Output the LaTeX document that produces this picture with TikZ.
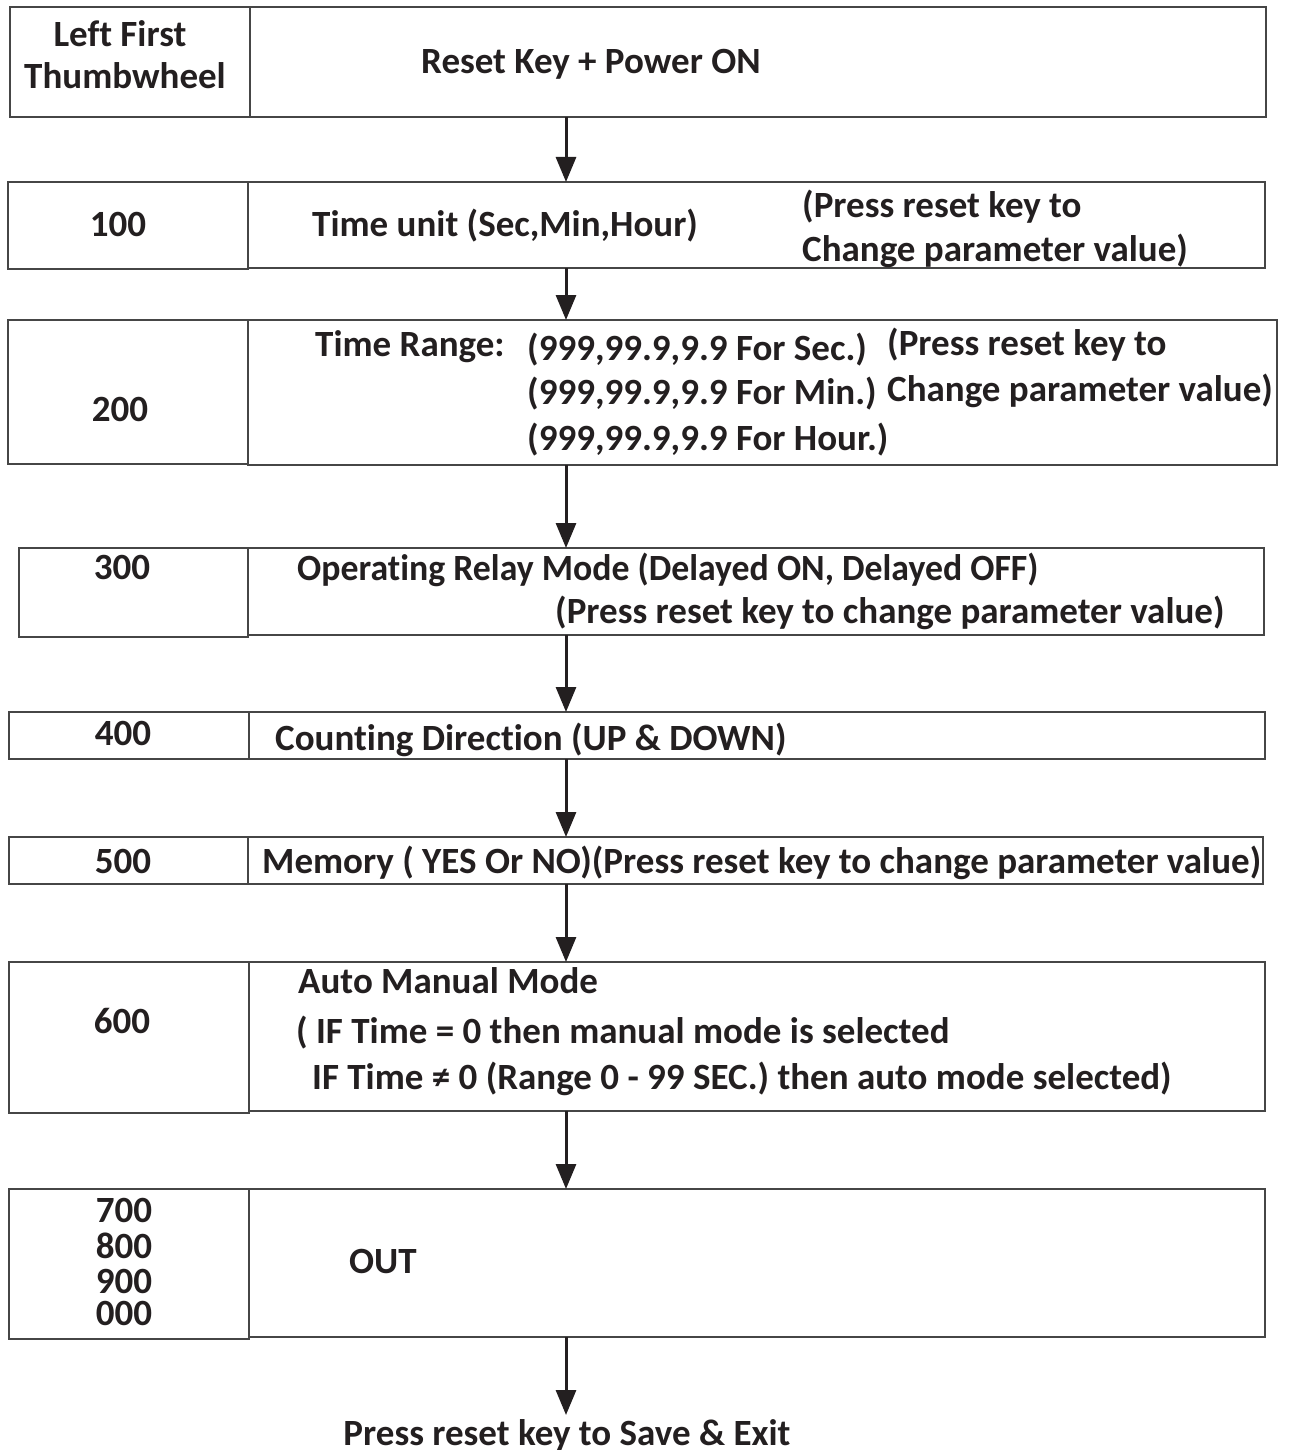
\documentclass[tikz,border=0pt]{standalone}
\usepackage{fontspec}
\setmainfont{Carlito}[Ligatures=NoCommon]
\usetikzlibrary{arrows.meta}
\definecolor{txt}{RGB}{35,31,32}
\definecolor{edge}{RGB}{70,70,70}
\begin{document}
\begin{tikzpicture}[x=1pt,y=-1pt,
  box/.style={draw=edge,line width=1.6pt,anchor=north west,inner sep=0pt,outer sep=0pt},
  lbl/.style={anchor=base west,inner sep=0pt,text=txt,font=\fontsize{37}{35}\selectfont\bfseries},
  num/.style={anchor=base,inner sep=0pt,text=txt,font=\fontsize{37}{35}\selectfont\bfseries},
  flow/.style={draw=txt,line width=3pt,-{Triangle[length=25pt,width=20pt]}}]
\useasboundingbox (0,0) rectangle (1288,1450);
% row 0
\node[box,minimum width=240pt,minimum height=110pt] (l0) at (10,7) {};
\node[box,minimum width=1016pt,minimum height=110pt] (r0) at (250,7) {};
\node[num] (t0a) at (120,47) {Left First};
\node[num] (t0b) at (125,89) {Thumbwheel};
\node[lbl] (t0c) at (421,74) {Reset Key + Power ON};
% row 1
\node[box,minimum width=240pt,minimum height=87pt] (l1) at (8,182) {};
\node[box,minimum width=1017pt,minimum height=86pt] (r1) at (248,182) {};
\node[num] (t1a) at (118,236) {100};
\node[lbl] (t1b) at (312,236) {Time unit (Sec,Min,Hour)};
\node[lbl] (t1c) at (802,218) {(Press reset key to};
\node[lbl] (t1d) at (802,261) {Change parameter value)};
% row 2
\node[box,minimum width=240pt,minimum height=144pt] (l2) at (8,320) {};
\node[box,minimum width=1029pt,minimum height=145pt] (r2) at (248,320) {};
\node[num] (t2a) at (120,421) {200};
\node[lbl] (t2b) at (315,356) {Time Range:};
\node[lbl] (t2c) at (527,360) {(999,99.9,9.9 For Sec.)};
\node[lbl] (t2d) at (527,404) {(999,99.9,9.9 For Min.)};
\node[lbl] (t2e) at (527,450) {(999,99.9,9.9 For Hour.)};
\node[lbl] (t2f) at (887,355) {(Press reset key to};
\node[lbl] (t2g) at (887,401) {Change parameter value)};
% row 3
\node[box,minimum width=229pt,minimum height=89pt] (l3) at (19,548) {};
\node[box,minimum width=1016pt,minimum height=87pt] (r3) at (248,548) {};
\node[num] (t3a) at (122,579) {300};
\node[lbl] (t3b) at (297,580) {\scalebox{0.967}[1]{Operating Relay Mode (Delayed ON, Delayed OFF)}};
\node[lbl] (t3c) at (555,623) {(Press reset key to change parameter value)};
% row 4
\node[box,minimum width=240pt,minimum height=47pt] (l4) at (9,712) {};
\node[box,minimum width=1016pt,minimum height=47pt] (r4) at (249,712) {};
\node[num] (t4a) at (123,745) {400};
\node[lbl] (t4b) at (275,750) {Counting Direction (UP \& DOWN)};
% row 5
\node[box,minimum width=239pt,minimum height=47pt] (l5) at (9,837) {};
\node[box,minimum width=1015pt,minimum height=47pt] (r5) at (248,837) {};
\node[num] (t5a) at (123,873) {500};
\node[lbl] (t5b) at (262,873) {Memory ( YES Or NO)(Press reset key to change parameter value)};
% row 6
\node[box,minimum width=240pt,minimum height=151pt] (l6) at (9,962) {};
\node[box,minimum width=1016pt,minimum height=149pt] (r6) at (249,962) {};
\node[num] (t6a) at (122,1033) {600};
\node[lbl] (t6b) at (298,993) {Auto Manual Mode};
\node[lbl] (t6c) at (296,1043) {( IF Time = 0 then manual mode is selected};
\node[lbl] (t6d) at (312,1089) {IF Time ≠ 0 (Range 0 - 99 SEC.) then auto mode selected)};
% row 7
\node[box,minimum width=240pt,minimum height=150pt] (l7) at (9,1189) {};
\node[box,minimum width=1016pt,minimum height=148pt] (r7) at (249,1189) {};
\node[num] (t7a) at (124,1222) {700};
\node[num] (t7b) at (124,1258) {800};
\node[num] (t7c) at (124,1293) {900};
\node[num] (t7d) at (124,1325) {000};
\node[lbl] (t7e) at (349,1273) {OUT};
% exit
\node[num] (ex) at (567,1445) {Press reset key to Save \& Exit};
\coordinate (ax) at (566,0);
\coordinate (exn) at (566,1415);
% arrows
\draw[flow] (r0.south -| ax) -- (r1.north -| ax);
\draw[flow] (r1.south -| ax) -- (r2.north -| ax);
\draw[flow] (r2.south -| ax) -- (r3.north -| ax);
\draw[flow] (r3.south -| ax) -- (r4.north -| ax);
\draw[flow] (r4.south -| ax) -- (r5.north -| ax);
\draw[flow] (r5.south -| ax) -- (r6.north -| ax);
\draw[flow] (r6.south -| ax) -- (r7.north -| ax);
\draw[flow] (r7.south -| ax) -- (exn);
\end{tikzpicture}
\end{document}
